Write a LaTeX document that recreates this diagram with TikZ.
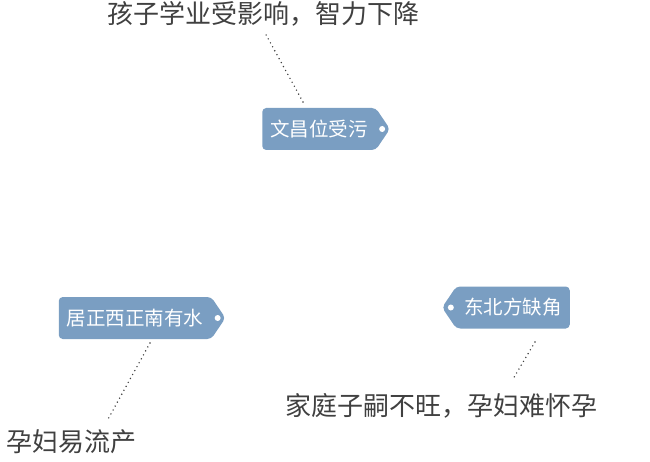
\documentclass[tikz,border=0pt]{standalone}
\usepackage{fontspec}
\setmainfont{Noto Sans CJK SC}
\usetikzlibrary{shapes.symbols,calc}
\definecolor{tagblue}{RGB}{122,158,194}
\definecolor{inkgray}{RGB}{64,64,64}
\begin{document}
\begin{tikzpicture}[x=1pt, y=-1pt,
	tag/.style = {signal, signal pointer angle=112, fill=tagblue, text=white, rounded corners=4pt, minimum height=42pt, inner xsep=8pt, font=\fontsize{19.5}{22}\selectfont},
	note/.style = {text=inkgray, inner sep=0pt, font=\fontsize{26}{30}\selectfont},
	hole/.style = {circle, fill=white, inner sep=0pt, minimum size=6pt},
	link/.style = {draw=inkgray, line width=1.6pt, line cap=round, dash pattern=on 0pt off 4.5pt}]
		\useasboundingbox (0,0) rectangle (650,462);
		\node[tag, signal to=east] (wc) at (319,129) {文昌位受污};
		\node[tag, signal to=east] (jz) at (135,318) {居正西正南有水};
		\node[tag, signal to=west] (db) at (513,307.5) {东北方缺角};
		\node[hole] (wchole) at ($(wc.east)+(-8,0)$) {};
		\node[hole] (jzhole) at ($(jz.east)+(-8,0)$) {};
		\node[hole] (dbhole) at ($(db.west)+(9,0)$) {};
		\node[note] (wcnote) at (263,14) {孩子学业受影响，智力下降};
		\node[note] (jznote) at (71.5,442) {孕妇易流产};
		\node[note] (dbnote) at (441,406) {家庭子嗣不旺，孕妇难怀孕};
		\draw[link] ($(wc)+(-16,-27)$) -- ($(wcnote)+(2,19)$);
		\draw[link] ($(jz)+(15,25)$) -- ($(jznote)+(35.5,-21)$);
		\draw[link] ($(db)+(22,34.5)$) -- ($(dbnote)+(72,-27)$);
\end{tikzpicture}
\end{document}
